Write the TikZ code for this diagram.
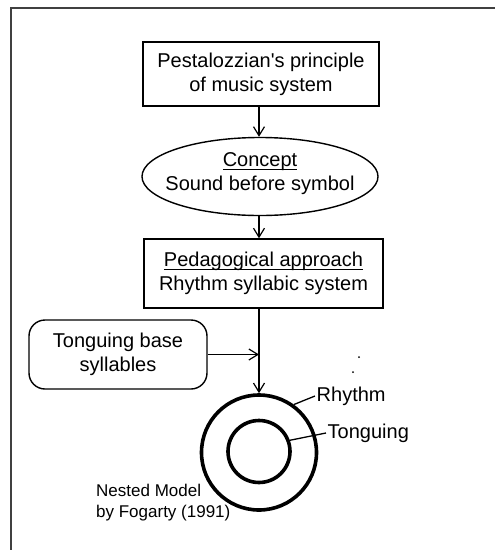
\documentclass[tikz,border=0pt]{standalone}
\usepackage{fontspec}
\setmainfont{Liberation Sans}
\usetikzlibrary{shapes.geometric,arrows.meta}
\newcommand\myul[1]{\setbox0\hbox{#1}\rlap{\rule[-3.2pt]{\wd0}{1.1pt}}\box0}
\begin{document}
\begin{tikzpicture}[x=1pt,y=-1pt,
  every node/.style={inner sep=0pt, font=\fontsize{20}{24}\selectfont, align=center},
  frameline/.style={draw=black!75, line width=2pt},
  rectbox/.style={draw, line width=1.4pt},
  ovalbox/.style={draw, ellipse, line width=1.4pt},
  roundbox/.style={draw, rounded corners=16pt, line width=1.4pt},
  ring/.style={draw, circle, line width=3.6pt},
  arr/.style={line width=1.3pt, -{Straight Barb[length=9pt,width=11pt,line width=1.2pt]}},
  leader/.style={line width=1.3pt},
  lbl/.style={inner sep=1.5pt}
]
\useasboundingbox (0,0) rectangle (495,550);
\draw[frameline] (495,8) -- (11,8) -- (11,550);

\node[rectbox, minimum width=236pt, minimum height=64pt] (p) at (261,74) {Pestalozzian\textquotesingle s principle\\of music system};
\node[ovalbox, minimum width=236pt, minimum height=78pt] (c) at (260,176.5) {};
\node (ct) at (260,174) {\myul{Concept}\\Sound before symbol};
\node[rectbox, minimum width=239pt, minimum height=69pt] (b) at (263.5,273.5) {\myul{Pedagogical approach}\\Rhythm syllabic system};
\node[roundbox, minimum width=178pt, minimum height=69pt] (t) at (118,354.5) {Tonguing base\\syllables};

\node[ring, minimum size=115pt] (o) at (259,452.5) {};
\node[ring, minimum size=62pt] (i) at (259,451.5) {};

\node[lbl, anchor=west] (rh) at (315,396) {Rhythm};
\node[lbl, anchor=west] (tg) at (326,433) {Tonguing};
\node[anchor=north west, align=left, font=\fontsize{17}{20.5}\selectfont] (nm) at (96,484) {Nested Model\\by Fogarty (1991)};

\draw[arr] (p.south -| o.north) -- (c.north -| o.north);
\draw[arr] (c.south -| o.north) -- (b.north -| o.north);
\draw[arr] (b.south -| o.north) -- (o.north);
\draw[arr] (t.east) -- (t.east -| o.north);
\draw[leader] (o.54) -- (rh.west);
\draw[leader] (i.20) -- (tg.west);

\fill (359,357) circle (1pt);
\fill (353,372) circle (1pt);
\end{tikzpicture}
\end{document}
